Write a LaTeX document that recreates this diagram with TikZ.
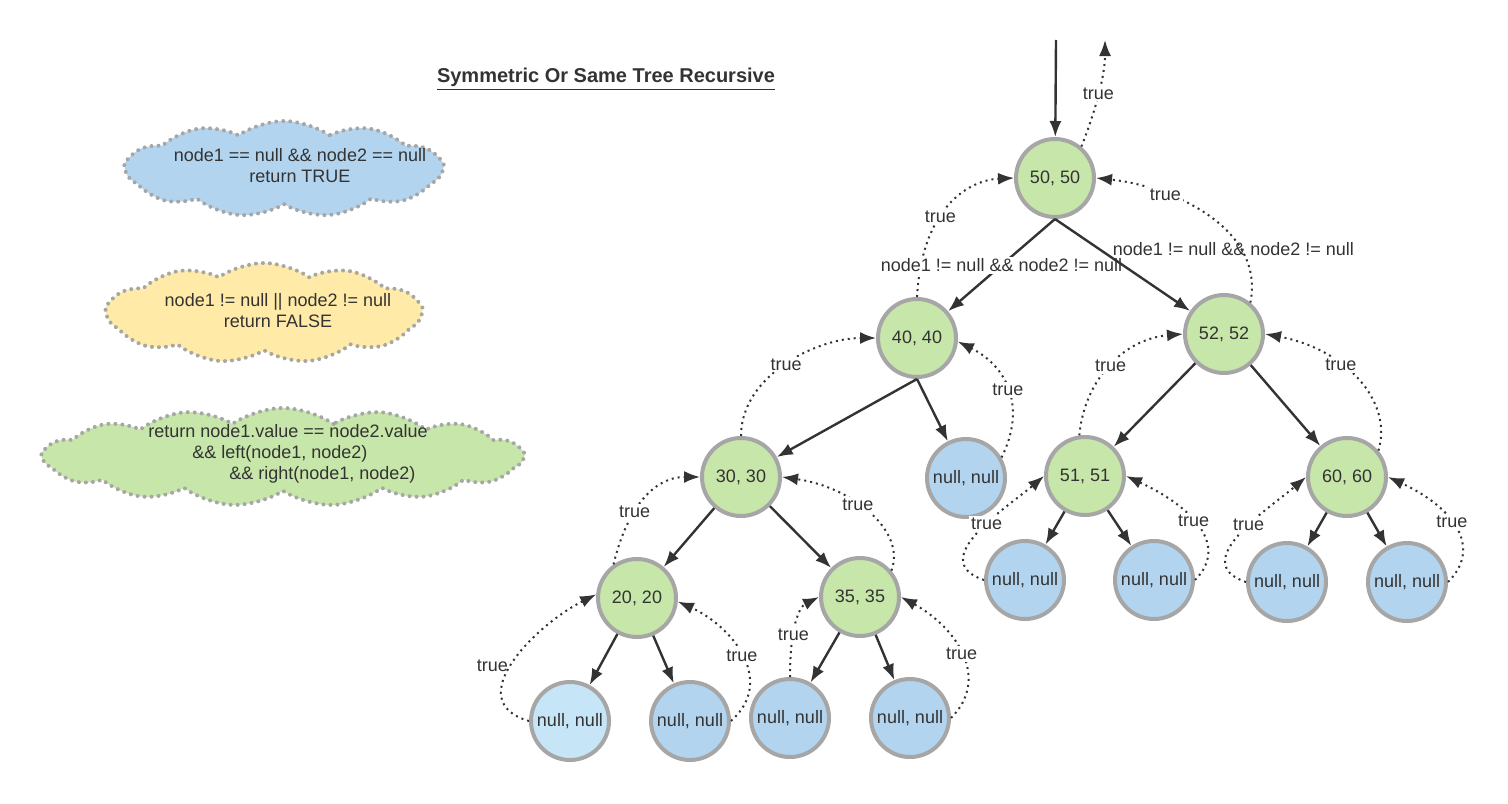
\documentclass[tikz,border=0pt]{standalone}
\usepackage{fontspec}
\setmainfont{Liberation Sans}
\usetikzlibrary{arrows.meta,shapes.symbols}
\definecolor{leafgreen}{RGB}{199,230,169}
\definecolor{leafblue}{RGB}{178,212,239}
\definecolor{paleblue}{RGB}{198,229,247}
\definecolor{paleyellow}{RGB}{255,234,167}
\definecolor{rimgray}{RGB}{166,166,166}
\definecolor{inkgray}{RGB}{51,51,51}
\begin{document}
\begin{tikzpicture}[
    x=0.5pt, y=-0.5pt,
    font=\fontsize{9}{10.5}\selectfont, text=inkgray,
    every node/.style={inner sep=1pt},
    valnode/.style={circle, draw=rimgray, line width=2pt, minimum size=39pt, inner sep=0pt},
    pairnode/.style={valnode, fill=leafgreen},
    nullnode/.style={valnode, fill=leafblue},
    tipnote/.style={cloud, cloud puff arc=70, cloud ignores aspect, draw=rimgray, line width=2pt, dash pattern=on 0pt off 3.5pt, line cap=round},
    call/.style={draw=inkgray, line width=1.2pt, -{Latex[length=8pt,width=6pt]}},
    back/.style={draw=inkgray, line width=1pt, dotted, -{Latex[length=8pt,width=6pt]}},
    truelabel/.style={fill=white, inner sep=1pt}
]
\useasboundingbox (0,0) rectangle (1508,803);

\node[font=\fontsize{10}{12}\selectfont\bfseries] (title) at (606,79) {\underline{Symmetric Or Same Tree Recursive}};

\node[tipnote, cloud puffs=11, fill=leafblue, minimum width=158pt, minimum height=48pt] (cloudtrue) at (284,169) {};
\node[tipnote, cloud puffs=11, fill=paleyellow, minimum width=157pt, minimum height=50pt] (cloudfalse) at (264,313) {};
\node[tipnote, cloud puffs=15, fill=leafgreen, minimum width=240pt, minimum height=49pt] (cloudrec) at (283,457) {};
\node[align=center] (txttrue) at (300,166) {node1 == null \&\& node2 == null\\return TRUE};
\node[align=center] (txtfalse) at (278,311) {node1 != null || node2 != null\\return FALSE};
\node[align=left] (txtrec) at (288,454) {return node1.value == node2.value\\\hspace*{22pt}\&\& left(node1, node2)\\\hspace*{40.5pt}\&\& right(node1, node2)};

\node[pairnode] (n50) at (1055,178) {50, 50};
\node[pairnode] (n40) at (917,338) {40, 40};
\node[pairnode] (n52) at (1224,334) {52, 52};
\node[pairnode] (n30) at (741,477) {30, 30};
\node[nullnode] (null40r) at (966,478) {null, null};
\node[pairnode] (n51) at (1085,476) {51, 51};
\node[pairnode] (n60) at (1347,477) {60, 60};
\node[pairnode] (n20) at (637,598) {20, 20};
\node[pairnode] (n35) at (860,597) {35, 35};
\node[nullnode, fill=paleblue] (null20l) at (570,721) {null, null};
\node[nullnode] (null20r) at (690,721) {null, null};
\node[nullnode] (null35l) at (790,718) {null, null};
\node[nullnode] (null35r) at (910,718) {null, null};
\node[nullnode] (null51l) at (1025,580) {null, null};
\node[nullnode] (null51r) at (1154,580) {null, null};
\node[nullnode] (null60l) at (1287,582) {null, null};
\node[nullnode] (null60r) at (1407,582) {null, null};
\coordinate (callin) at (1056,40);
\coordinate (retout) at (1105,40);

\draw[back] (n50.50) .. controls +(10,-25) and +(0,40) .. node[truelabel, pos=0.55] {true} (retout);
\draw[back] (n40.90) .. controls +(5,-90) and +(-45,2) .. node[truelabel, pos=0.4] {true} (n50.180);
\draw[back] (n52.50) .. controls +(15,-75) and +(75,8) .. node[truelabel, pos=0.7] {true} (n50.0);
\draw[back] (n30.90) .. controls +(0,-60) and +(-60,0) .. node[truelabel, pos=0.5] {true} (n40.180);
\draw[back] (null40r.30) .. controls +(25,-50) and +(50,25) .. node[truelabel, pos=0.5] {true} (n40.-5);
\draw[back] (n51.98) .. controls +(5,-55) and +(-60,5) .. node[truelabel, pos=0.5] {true} (n52.180);
\draw[back] (n60.40) .. controls +(15,-50) and +(80,15) .. node[truelabel, pos=0.62] {true} (n52.0);
\draw[back] (n20.125) .. controls +(12,-50) and +(-50,0) .. node[truelabel, pos=0.4] {true} (n30.180);
\draw[back] (n35.40) .. controls +(15,-40) and +(70,10) .. node[truelabel, pos=0.58] {true} (n30.0);
\draw[back] (null20l.180) .. controls +(-70,-20) and +(-60,30) .. node[left, pos=0.47] {true} (n20.175);
\draw[back] (null20r.0) .. controls +(45,-40) and +(55,25) .. node[truelabel, pos=0.5] {true} (n20.-5);
\draw[back] (null35l.90) .. controls +(0,-50) and +(-20,10) .. node[truelabel, pos=0.35] {true} (n35.180);
\draw[back] (null35r.0) .. controls +(40,-40) and +(55,30) .. node[truelabel, pos=0.5] {true} (n35.0);
\draw[back] (null51l.180) .. controls +(-60,-20) and +(-35,30) .. node[truelabel, pos=0.57] {true} (n51.180);
\draw[back] (null51r.0) .. controls +(35,-35) and +(65,30) .. node[truelabel, pos=0.55] {true} (n51.0);
\draw[back] (null60l.180) .. controls +(-60,-20) and +(-35,30) .. node[truelabel, pos=0.57] {true} (n60.180);
\draw[back] (null60r.0) .. controls +(35,-35) and +(65,30) .. node[truelabel, pos=0.55] {true} (n60.0);

\draw[call] (callin) -- (n50);
\draw[call] (n50.south) -- node[fill=white, pos=0.5] {node1 != null \&\& node2 != null} (n40);
\draw[call] (n50.south) -- node[pos=0.33, anchor=west, xshift=5pt] {node1 != null \&\& node2 != null} (n52);
\draw[call] (n40.south) -- (n30);
\draw[call] (n40.south) -- (null40r);
\draw[call] (n52) -- (n51);
\draw[call] (n52) -- (n60);
\draw[call] (n30) -- (n20);
\draw[call] (n30) -- (n35);
\draw[call] (n20) -- (null20l);
\draw[call] (n20) -- (null20r);
\draw[call] (n35) -- (null35l);
\draw[call] (n35) -- (null35r);
\draw[call] (n51) -- (null51l);
\draw[call] (n51) -- (null51r);
\draw[call] (n60) -- (null60l);
\draw[call] (n60) -- (null60r);
\end{tikzpicture}
\end{document}
